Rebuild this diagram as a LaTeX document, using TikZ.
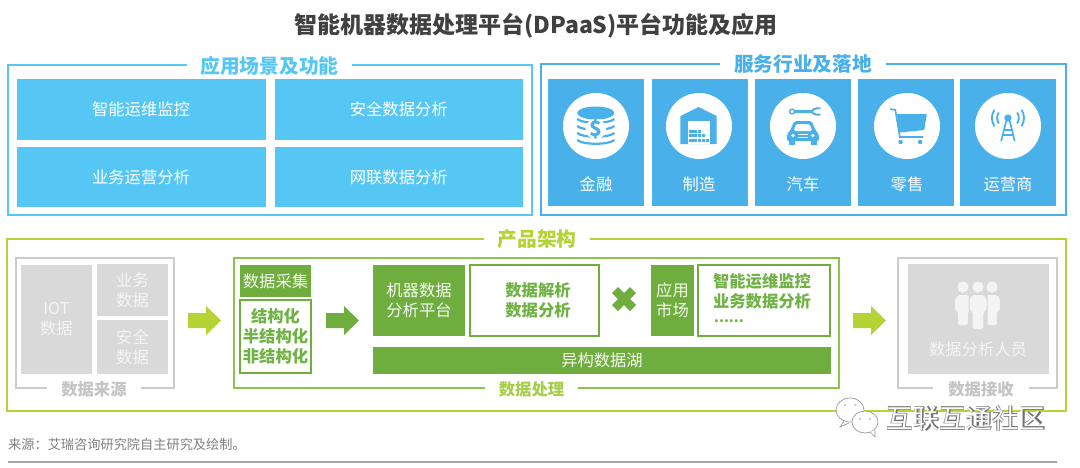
\documentclass[tikz,border=0pt]{standalone}
\usepackage{fontspec}
\setmainfont{Noto Sans CJK SC}
\definecolor{skyA}{HTML}{56C7F5}
\definecolor{skyB}{HTML}{4AB0EA}
\definecolor{limeA}{HTML}{B5D334}
\definecolor{leaf}{HTML}{6FAE3E}
\definecolor{leafLine}{HTML}{8CC34A}
\definecolor{leafText}{HTML}{70B244}
\definecolor{limeText}{HTML}{A6CE4A}
\definecolor{greyCell}{HTML}{D9D9D9}
\definecolor{greyLine}{HTML}{CCCCCC}
\definecolor{greyText}{HTML}{C4C4C4}
\definecolor{softWhite}{HTML}{F4F4F4}
\definecolor{titleInk}{HTML}{404040}
\tikzset{
  x=1pt,y=-1pt,
  blk/.style={inner sep=0pt,outer sep=0pt,align=center,text=white,font=\fontsize{16.3}{20}\selectfont},
  skycell/.style={blk,fill=skyA,text=white},
  svcell/.style={blk,fill=skyB},
  frameSky/.style={blk,draw=skyA,line width=2pt},
  frameSvc/.style={blk,draw=skyB,line width=2pt},
  frameLime/.style={blk,draw=limeA,line width=2pt},
  frameProc/.style={blk,draw=leafLine,line width=1.6pt},
  frameGrey/.style={blk,draw=greyLine,line width=1.6pt},
  greycell/.style={blk,fill=greyCell,text=softWhite},
  leafcell/.style={blk,fill=leaf,text=white!92!leaf},
  leafbox/.style={blk,draw=leaf,line width=1.5pt,text=leafText,font=\fontsize{16.3}{20}\selectfont\bfseries},
  heading/.style={inner sep=0pt,outer sep=0pt,fill=white,font=\fontsize{19.7}{24}\selectfont\bfseries,minimum height=14pt},
  subheading/.style={inner sep=0pt,outer sep=0pt,fill=white,font=\fontsize{16.3}{20}\selectfont\bfseries,minimum height=14pt},
}
% A rectangular node given by its corner coordinates
\newcommand{\rbox}[7]{%
  \pgfmathsetmacro{\bw}{#4-#2}\pgfmathsetmacro{\bh}{#5-#3}%
  \pgfmathsetmacro{\bx}{(#2+#4)/2}\pgfmathsetmacro{\by}{(#3+#5)/2}%
  \node[#6,minimum width=\bw pt,minimum height=\bh pt] (#1) at (\bx,\by) {#7};}
% Cell caption set a little below the centre of the cell
\newcommand{\lowered}[1]{\raisebox{-2pt}{#1}}
% Block arrow: left end, colour, vertical centre 320
\newcommand{\blockarrow}[2]{%
  \fill[#2] (#1,313) -- ++(18,0) -- ++(0,-7) -- ++(15,14.5) -- ++(-15,14.5) -- ++(0,-7) -- ++(-18,0) -- cycle;}
% One standing figure of the staff icon
\newcommand{\figurebody}[4]{%
  \fill[softWhite,rounded corners=1.6pt] (#1-#4,#2+4) -- (#1-#4+3,#2) -- (#1+#4-3,#2) -- (#1+#4,#2+4) -- (#1+#4,#2+15)
    -- (#1+#4*0.62,#2+17) -- (#1+#4*0.62,#3) -- (#1-#4*0.62,#3) -- (#1-#4*0.62,#2+17) -- (#1-#4,#2+15) -- cycle;}
\begin{document}
\begin{tikzpicture}
\useasboundingbox (0,0) rectangle (1080,467);
\fill[white] (0,0) rectangle (1080,467);

\node[inner sep=0pt,text=titleInk,font=\fontsize{23}{26}\selectfont\bfseries] (title) at (536,26) {智能机器数据处理平台(DPaaS)平台功能及应用};

% Application scenarios
\rbox{appFrame}{7.5}{65}{532}{215}{frameSky}{}
\node[heading,text=skyA,minimum width=165pt] (appHead) at (269.5,65.5) {应用场景及功能};
\rbox{appA}{16.5}{79}{265.5}{140}{skycell}{\lowered{智能运维监控}}
\rbox{appB}{274.5}{79}{523}{140}{skycell}{\lowered{安全数据分析}}
\rbox{appC}{16.5}{147}{265.5}{207}{skycell}{\lowered{业务运营分析}}
\rbox{appD}{274.5}{147}{523}{207}{skycell}{\lowered{网联数据分析}}

% Industries served
\rbox{svcFrame}{541}{64}{1066}{215}{frameSvc}{}
\node[heading,text=skyB,minimum width=166pt] (svcHead) at (803,64.5) {服务行业及落地};
\rbox{svcA}{548}{79}{644}{206}{svcell}{}
\rbox{svcB}{652}{79}{748}{206}{svcell}{}
\rbox{svcC}{755}{79}{851}{206}{svcell}{}
\rbox{svcD}{858}{79}{954}{206}{svcell}{}
\rbox{svcE}{960}{79}{1056}{206}{svcell}{}
\foreach \nm/\cx/\lab in {finance/596/金融,maker/699/制造,auto/803/汽车,retail/907/零售,telecom/1008/运营商}{
  \fill[white] (\cx,126) circle (33);
  \node[blk] (\nm) at (\cx,184) {\lab};
}

\begin{scope}[xshift=540pt,xscale=1.033,xshift=-540pt]
% Coin stack
  \fill[skyB] (594,113) ellipse (18 and 6.5);
  \foreach \yy in {119,126,133,140}{
    \draw[skyB,line width=2.2pt] (576,\yy) .. controls (581,\yy+5) and (607,\yy+5) .. (612,\yy);
  }
  \fill[white] (594,129) circle (10);
  \node[inner sep=0pt,text=skyB,font=\fontsize{21}{24}\selectfont\bfseries] (dollar) at (594,129) {\$};

% Warehouse
\fill[skyB] (676,116) -- (693.5,107) -- (711,116) -- (711,144) -- (676,144) -- cycle;
\fill[white] (683,121) rectangle (705,144);
\foreach \row/\cnt in {129.5/3,134/4,138.5/5}{
  \foreach \i in {1,...,\cnt}{
    \pgfmathsetmacro{\xa}{684.5+(\i-1)*4}
    \fill[skyB] (\xa,\row) rectangle ++(3.2,3.2);
  }
}

% Wrench over a car
\draw[skyB,line width=1.4pt] (784,111.5) circle (2.4);
\draw[skyB,line width=2.4pt] (786.5,111.5) -- (804,111.5);
\draw[skyB,line width=2pt] (811.5,108.5) .. controls (806,107.5) and (803,110) .. (803.5,111.5) .. controls (803,113) and (806,115.5) .. (811.5,114.5);
\fill[skyB,rounded corners=2pt] (786,121) -- (803,121) -- (807,131) -- (810,134) -- (810,141) -- (779,141) -- (779,134) -- (782,131) -- cycle;
\fill[skyB] (781,140) rectangle (787,144.5);
\fill[skyB] (802,140) rectangle (808,144.5);
\fill[white,rounded corners=1.5pt] (785.5,131) -- (788,124) -- (801,124) -- (803.5,131) -- cycle;
\fill[white] (785,135.5) circle (1.8);
\fill[white] (804,135.5) circle (1.8);
\draw[white,line width=0.8pt] (790,134.5) -- (799,134.5) (790,137.5) -- (799,137.5);

% Shopping cart
\draw[skyB,line width=1.6pt] (879,109) -- (884,110) -- (888.3,137) -- (911,137);
\fill[skyB,rounded corners=0.8pt] (885.5,114) -- (914.5,114) -- (912,130) -- (887.8,132.5) -- cycle;
\fill[skyB] (889,142) circle (2.2);
\fill[skyB] (908,142) circle (2.2);

% Radio mast
\fill[skyB] (993,118) circle (3.6);
\draw[skyB,line width=1.7pt] (991.3,121) -- (986.5,141) (994.7,121) -- (999.5,141) (989.5,130) -- (996.5,130) (988,135) -- (998,135);
\foreach \rr in {10.5,15.5}{
  \draw[skyB,line width=1.9pt] (993,118) ++(-32:\rr) arc[start angle=-32,end angle=32,radius=\rr];
  \draw[skyB,line width=1.9pt] (993,118) ++(148:\rr) arc[start angle=148,end angle=212,radius=\rr];
}
\end{scope}

% Product architecture
\rbox{archFrame}{7}{239}{1066}{411}{frameLime}{}
\node[heading,text=limeA,minimum width=106pt] (archHead) at (537,239) {产品架构};

% Data sources
\rbox{srcFrame}{16}{258}{174}{388}{frameGrey}{}
\node[subheading,text=greyText,minimum width=94pt] (srcHead) at (94,389) {数据来源};
\rbox{iot}{21}{265}{92}{374}{greycell}{IOT\\数据}
\rbox{biz}{97}{264}{168}{316}{greycell}{业务\\数据}
\rbox{sec}{97}{320}{168}{374}{greycell}{安全\\数据}

\blockarrow{188}{limeA}

% Data processing
\rbox{procFrame}{234}{258}{839}{388}{frameProc}{}
\node[subheading,text=limeText,minimum width=93pt] (procHead) at (531.5,389) {数据处理};
\rbox{collect}{240}{265}{311}{297}{leafcell}{数据采集}
\rbox{kinds}{240}{300}{311}{373}{leafbox}{结构化\\半结构化\\非结构化}

\blockarrow{326}{leaf}

\rbox{mach}{373}{265}{465}{336}{leafcell}{机器数据\\分析平台}
\rbox{parse}{470}{265}{599}{336}{leafbox}{}
\node[inner sep=0pt,align=center,text=leafText,font=\fontsize{16.3}{20}\selectfont\bfseries] (parseText) at (538,300) {数据解析\\数据分析};
\draw[leaf,line width=8.5pt] (615,290) -- (633,308) (633,290) -- (615,308);
\rbox{market}{651}{265}{694}{336}{leafcell}{应用\\市场}
\rbox{apps}{698}{265}{830}{336}{leafbox}{}
\node[inner sep=0pt,align=center,text=leafText,font=\fontsize{16.3}{20}\selectfont\bfseries] (appsText) at (762,291) {智能运维监控\\业务数据分析};
\node[inner sep=0pt,anchor=west,text=leafText,font=\fontsize{14}{16}\selectfont\bfseries] (appsMore) at (714,321) {......};
\rbox{lake}{373}{347}{831}{374}{leafcell}{异构数据湖}

\blockarrow{853}{limeA}

% Data receivers
\rbox{dstFrame}{898}{258}{1057}{388}{frameGrey}{}
\node[subheading,text=greyText,minimum width=96pt] (dstHead) at (981,389) {数据接收};
\rbox{analyst}{908}{264}{1049}{374}{greycell}{}
\node[inner sep=0pt,text=softWhite,font=\fontsize{16.3}{20}\selectfont] (analystText) at (978,349) {数据分析人员};
\figurebody{963}{295}{325}{8}
\figurebody{992}{295}{325}{8}
\fill[softWhite] (963,287) circle (5.6);
\fill[softWhite] (992,287) circle (5.6);
\fill[softWhite] (978,287) circle (5.6);
\fill[greyCell,rounded corners=1.6pt] (968.5,294) rectangle (987.5,331);
\figurebody{978}{295}{329}{8.5}

% Source line and rule
\node[inner sep=0pt,anchor=west,text=black!50,font=\fontsize{13.2}{16}\selectfont] (source) at (8,444) {来源：艾瑞咨询研究院自主研究及绘制。};
\coordinate (ruleL) at (8,462);
\coordinate (ruleR) at (1057,462);
\draw[black!35,line width=1.5pt] (ruleL) -- (ruleR);

% Channel mark
\draw[black!40,fill=white,line width=0.7pt] (850,410) ellipse (14 and 12);
\draw[black!40,fill=white,line width=0.7pt] (844,421) -- (840,427) -- (849,423);
\draw[black!40,line width=0.7pt,fill=white] (865,422) ellipse (13 and 11);
\draw[black!40,fill=white,line width=0.7pt] (870,432) -- (875,437) -- (875,430);
\fill[black!40] (845,405) circle (0.8) (855,405) circle (0.8) (860,419) circle (0.8) (870,419) circle (0.8);
\node[inner sep=0pt,anchor=west,text=black!55,font=\fontsize{26.5}{30}\selectfont\bfseries] (markShade) at (886.5,418.5) {互联互通社区};
\node[inner sep=0pt,anchor=west,text=white,font=\fontsize{26.5}{30}\selectfont] (markText) at (886,418) {互联互通社区};
\end{tikzpicture}
\end{document}
